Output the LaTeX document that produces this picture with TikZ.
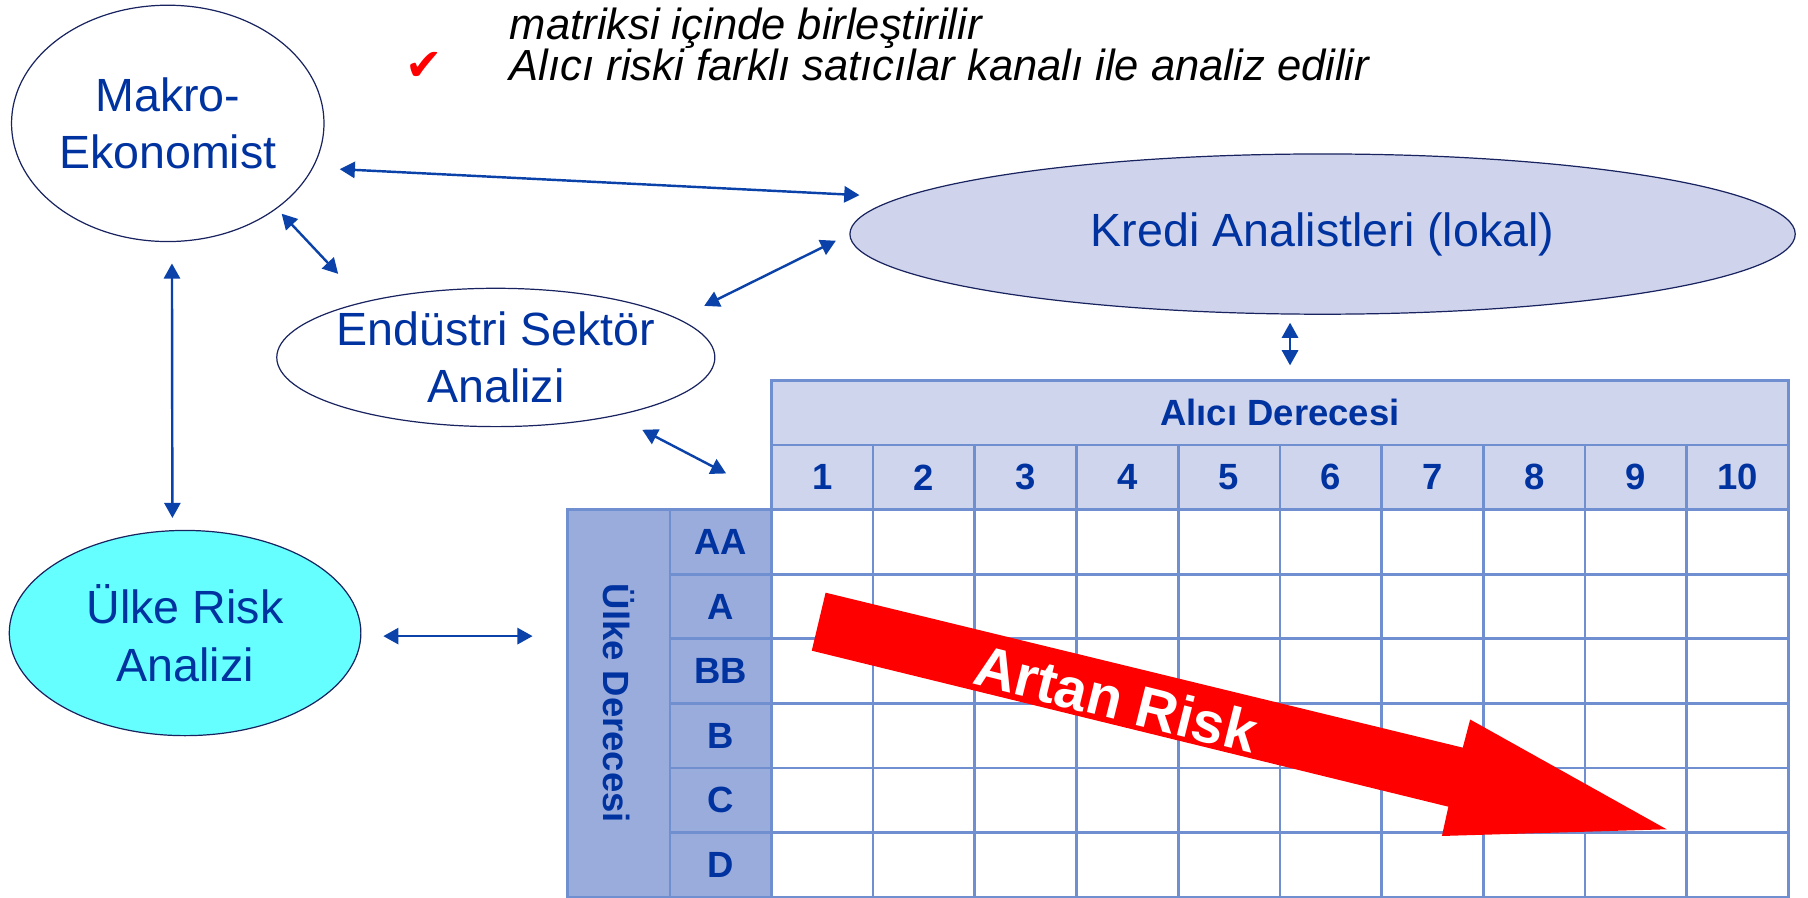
\documentclass[tikz,border=0pt]{standalone}
\usepackage{fontspec}
\setmainfont{Liberation Sans}
\newfontfamily\checkfont{DejaVu Sans}
\usepackage{graphicx}
\usetikzlibrary{arrows.meta,shapes.geometric}

\definecolor{textblue}{RGB}{0,51,160}
\definecolor{linkblue}{RGB}{10,66,170}
\definecolor{navy}{RGB}{25,35,95}
\definecolor{kredifill}{RGB}{207,212,236}
\definecolor{ulkefill}{RGB}{102,255,255}
\definecolor{headfill}{RGB}{207,213,236}
\definecolor{rowfill}{RGB}{154,172,220}
\definecolor{gridblue}{RGB}{111,143,209}
\definecolor{riskred}{RGB}{255,0,0}

\begin{document}
\begin{tikzpicture}[
    x=0.02cm, y=-0.02cm,
    >={Triangle[length=7.5pt,width=8pt]},
    bubble/.style={
		ellipse,
		draw=navy,
		line width=0.6pt,
		text=textblue,
		align=center,
		inner sep=-5pt,
		font=\fontsize{23}{28.5}\selectfont
	},
	link/.style={
		<->,
		draw=linkblue,
		line width=1.2pt
	},
	cell/.style={
		rectangle,
		draw=gridblue,
		line width=1.3pt,
		inner sep=0pt,
		minimum width=1.764cm,
		minimum height=1.12cm,
		text=textblue,
		font=\bfseries\fontsize{18}{21}\selectfont
	},
	head/.style={cell, fill=headfill},
	rowhead/.style={cell, fill=rowfill},
	note/.style={
		anchor=base west,
		font=\itshape\fontsize{21.5}{25}\selectfont
	}
  ]
  \useasboundingbox (0,0) rectangle (1568,778);

    % We start by placing the bubbles
  \node [bubble, minimum width=5.42cm, minimum height=4.1cm] (makro) at (145.5,107) {Makro-\\Ekonomist};
  \node [bubble, fill=kredifill, minimum width=16.4cm, minimum height=2.78cm] (kredi) at (1147,203) {Kredi Analistleri (lokal)};
  \node [bubble, minimum width=7.6cm, minimum height=2.4cm] (endustri) at (430,310) {Endüstri Sektör\\Analizi};
  \node [bubble, fill=ulkefill, minimum width=6.1cm, minimum height=3.56cm] (ulke) at (160.5,549) {Ülke Risk\\Analizi};

    % the note on top
  \node [note] (matriks) at (436,34) {matriksi içinde birleştirilir};
  \node [note] (alicinote) at (436,70) {Alıcı riski farklı satıcılar kanalı ile analiz edilir};
  \node [anchor=base, text=red, font=\checkfont\fontsize{22}{22}\selectfont] (tick) at (368,70) {✔};

    % then the matrix
  \node [head, minimum width=17.64cm] (alici) at (1110,358) {Alıcı Derecesi};
  \foreach \i in {1,...,10}
    \node [head] (n\i) at ({669+88.2*(\i-0.5)},414) {\i};
  \node [rowhead, minimum width=1.78cm, minimum height=6.72cm] (uderece) at (536.5,610) {\rotatebox{-90}{Ülke Derecesi}};
  \foreach \r [count=\j] in {AA,A,BB,B,C,D} {
    \node [rowhead] (r\j) at (625,{442+56*(\j-0.5)}) {\r};
    \foreach \i in {1,...,10}
      \node [cell] (c\j-\i) at ({669+88.2*(\i-0.5)},{442+56*(\j-0.5)}) {};
  }

    % the big red arrow
  \fill [riskred] (716,514) -- (1268.6,648.4) -- (1275,624) -- (1445.4,719.2) -- (1250.5,725) -- (1256.1,699.6) -- (704,564.3) -- cycle;
  \node [rotate=-14, text=white, font=\bfseries\fontsize{28.5}{30}\selectfont] (artan) at (968,606) {Artan Risk};

    % and the links
  \draw [link, shorten <=0.46cm, shorten >=0.73cm] (makro.-17.6) -- (kredi.175.7);
  \draw [link, shorten <=0.12cm, shorten >=0.66cm] (makro.-38.1) -- (endustri.157.9);
  \draw [link, shorten <=0.26cm, shorten >=0.5cm] (kredi.180.5) -- (endustri.12.6);
  \draw [link, shorten <=0.37cm, shorten >=0.21cm] (makro.-88) -- (ulke.97.7);
  \draw [link, shorten <=0.14cm, shorten >=0.24cm] (kredi.-112) -- (kredi.-112 |- alici.north);
  \draw [link, shorten <=0.52cm, shorten >=0.86cm] (endustri.-26.3) -- (n1.200);
  \draw [link, shorten <=0.38cm, shorten >=0.58cm] (ulke.-1.5) -- (ulke.-1.5 -| uderece.west);

\end{tikzpicture}
\end{document}
